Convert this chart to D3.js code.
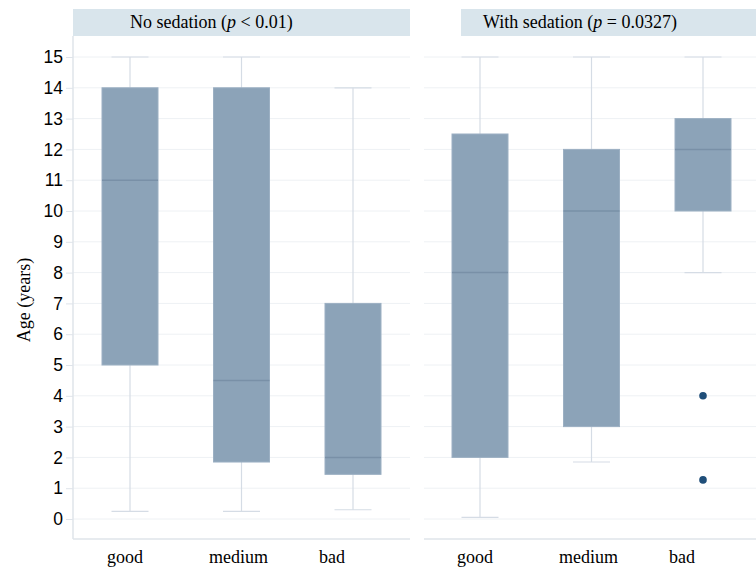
<!DOCTYPE html>
<html><head><meta charset="utf-8">
<script src="https://cdn.jsdelivr.net/npm/d3@7"></script>
<style>body{margin:0;background:#fff}svg{display:block}</style>
</head><body><svg id="c" width="756" height="568"></svg>
<script>
const categories = ["good", "medium", "bad"];
const yTicks = [0,1,2,3,4,5,6,7,8,9,10,11,12,13,14,15];
const panelTitles = ["No sedation", "With sedation"];
const panelP = ["< 0.01", "= 0.0327"];
// [whiskerLow, q1, median, q3, whiskerHigh]
const noSedation = [
  [0.25, 5, 11, 14, 15],
  [0.25, 1.85, 4.5, 14, 15],
  [0.3, 1.45, 2, 7, 14]
];
const withSedation = [
  [0.05, 2, 8, 12.5, 15],
  [1.85, 3, 10, 12, 15],
  [8, 10, 12, 13, 15]
];
const outliersNo = [[], [], []];
const outliersWith = [[], [], [4, 1.27]];

const svg = d3.select("#c");
const y = d3.scaleLinear().domain([0, 15]).range([519, 57]);
const plotTop = 36, plotBottom = 539;
const labelShift = [-5, -3, -21];

const panels = [
  {x0: 73, x1: 410, strip0: 73, strip1: 410, titleX: 130, range: [130, 353], data: noSedation, out: outliersNo, axis: true},
  {x0: 424, x1: 756, strip0: 461, strip1: 756, titleX: 483, range: [480, 703], data: withSedation, out: outliersWith, axis: false}
];

panels.forEach((p, pi) => {
  const g = svg.append("g");
  const x = d3.scalePoint().domain(categories).range(p.range);
  g.append("rect").attr("x", p.strip0).attr("y", 9).attr("width", p.strip1 - p.strip0).attr("height", 27).attr("fill", "#d9e5ec");
  const t = g.append("text").attr("x", p.titleX).attr("y", 28).attr("font-family", "Liberation Serif, Times New Roman, serif").attr("font-size", 18).attr("fill", "#000");
  t.append("tspan").text(panelTitles[pi] + " (");
  t.append("tspan").attr("font-style", "italic").text("p");
  t.append("tspan").text(" " + panelP[pi] + ")");
  g.selectAll(".grid").data(yTicks).join("line")
    .attr("x1", p.x0).attr("x2", p.x1)
    .attr("y1", d => y(d)).attr("y2", d => y(d))
    .attr("stroke", "#eef1f4").attr("stroke-width", 1);
  g.append("line").attr("x1", p.x0).attr("x2", p.x1).attr("y1", plotBottom).attr("y2", plotBottom).attr("stroke", "#dfe4ea").attr("stroke-width", 1.5);
  if (p.axis) {
    g.append("line").attr("x1", p.x0).attr("x2", p.x0).attr("y1", plotTop).attr("y2", plotBottom).attr("stroke", "#dfe4ea").attr("stroke-width", 1.5);
    const ax = d3.axisLeft(y).tickValues(yTicks).tickSize(7).tickPadding(3).tickFormat(d3.format("d"));
    const axg = g.append("g").attr("transform", `translate(${p.x0},0)`).call(ax);
    axg.select(".domain").remove();
    axg.selectAll(".tick line").attr("stroke", "#dfe4ea");
    axg.selectAll(".tick text").attr("font-family", "Liberation Sans, Arial, sans-serif").attr("font-size", 17.5).attr("fill", "#000");
  }
  const bw = 56, cw = 37;
  categories.forEach((c, i) => {
    const d = p.data[i], cx = x(c);
    g.append("line").attr("x1", cx).attr("x2", cx).attr("y1", y(d[0])).attr("y2", y(d[4])).attr("stroke", "#d5dce5").attr("stroke-width", 1.2);
    [d[0], d[4]].forEach(v => g.append("line").attr("x1", cx - cw/2).attr("x2", cx + cw/2).attr("y1", y(v)).attr("y2", y(v)).attr("stroke", "#d5dce5").attr("stroke-width", 1.2));
    g.append("rect").attr("x", cx - bw/2).attr("y", y(d[3])).attr("width", bw).attr("height", y(d[1]) - y(d[3]))
      .attr("fill", "#8ca3b8").attr("stroke", "#9cb0c3").attr("stroke-width", 1);
    g.append("line").attr("x1", cx - bw/2).attr("x2", cx + bw/2).attr("y1", y(d[2])).attr("y2", y(d[2])).attr("stroke", "#7990a7").attr("stroke-width", 1.5);
    p.out[i].forEach(v => g.append("circle").attr("cx", cx).attr("cy", y(v)).attr("r", 3.8).attr("fill", "#1f4e79"));
    g.append("text").attr("x", cx + labelShift[i]).attr("y", 563).attr("text-anchor", "middle")
      .attr("font-family", "Liberation Serif, Times New Roman, serif").attr("font-size", 18).attr("fill", "#000").text(c);
  });
});

svg.append("text").attr("transform", "translate(30,300) rotate(-90)").attr("text-anchor", "middle")
  .attr("font-family", "Liberation Serif, Times New Roman, serif").attr("font-size", 18).attr("fill", "#000").text("Age (years)");
</script></body></html>
